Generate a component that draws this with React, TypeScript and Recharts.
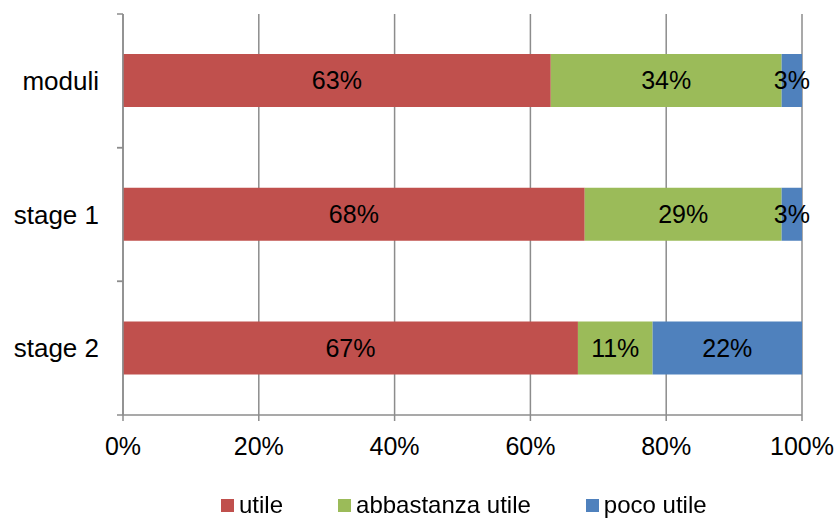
import { BarChart, Bar, XAxis, YAxis, CartesianGrid, Legend, LabelList } from 'recharts'

const categories = ['moduli', 'stage 1', 'stage 2']
const utile = [63, 68, 67]
const abbastanza = [34, 29, 11]
const poco = [3, 3, 22]
const xTicks = [0, 20, 40, 60, 80, 100]

const series = [
  { key: 'utile', name: 'utile', color: '#C0504D' },
  { key: 'abbastanza', name: 'abbastanza utile', color: '#9BBB59' },
  { key: 'poco', name: 'poco utile', color: '#4F81BD' },
]

const data = categories.map((c, i) => ({
  cat: c,
  utile: utile[i],
  abbastanza: abbastanza[i],
  poco: poco[i],
}))

const FONT = '"Liberation Sans", Arial, Helvetica, sans-serif'
const GRID = '#8c8c8c'

// Excel-style: ticks sit on band edges, not band centres
function CategoryTick(props: any) {
  const { x, y, payload } = props
  const half = payload.offset || 0
  const ax = x + 8
  return (
    <g>
      <line x1={ax - 6} x2={ax} y1={y - half} y2={y - half} stroke={GRID} strokeWidth={1.5} />
      <line x1={ax - 6} x2={ax} y1={y + half} y2={y + half} stroke={GRID} strokeWidth={1.5} />
      <text x={ax - 24} y={y} dy={9} textAnchor="end" fontSize={26} fill="#000" fontFamily={FONT}>
        {payload.value}
      </text>
    </g>
  )
}

function LegendContent() {
  return (
    <div style={{ display: 'flex', fontFamily: FONT, fontSize: 24, color: '#000', paddingLeft: 221, paddingTop: 3 }}>
      {series.map((s, i) => (
        <div key={s.key} style={{ display: 'flex', alignItems: 'center', marginRight: i < 2 ? 55 : 0 }}>
          <span style={{ width: 13, height: 13, background: s.color, display: 'inline-block', marginRight: 5 }} />
          <span>{s.name}</span>
        </div>
      ))}
    </div>
  )
}

export default function App() {
  return (
    <div style={{ position: 'fixed', left: 0, top: 0, background: '#fff' }}>
      <BarChart
        width={837}
        height={518}
        data={data}
        layout="vertical"
        margin={{ top: 14, right: 35, left: 0, bottom: 0 }}
        barCategoryGap="30%"
      >
        <CartesianGrid horizontal={false} vertical stroke={GRID} strokeWidth={1.5} />
        <XAxis
          type="number"
          domain={[0, 100]}
          ticks={xTicks}
          tickFormatter={(v: number) => `${v}%`}
          height={73}
          stroke={GRID}
          strokeWidth={1.5}
          tickSize={6}
          tick={{ fontSize: 25, fill: '#000', fontFamily: FONT, dy: 14 }}
          interval={0}
        />
        <YAxis
          type="category"
          dataKey="cat"
          width={123}
          stroke={GRID}
          strokeWidth={1.5}
          tickLine={false}
          tick={<CategoryTick />}
          interval={0}
        />
        <Legend verticalAlign="bottom" height={30} content={<LegendContent />} />
        {series.map((s) => (
          <Bar key={s.key} dataKey={s.key} name={s.name} stackId="a" fill={s.color} isAnimationActive={false}>
            <LabelList
              dataKey={s.key}
              position="center"
              formatter={(v: any) => `${v}%`}
              style={{ fontSize: 25, fill: '#000', fontFamily: FONT }}
            />
          </Bar>
        ))}
      </BarChart>
    </div>
  )
}
